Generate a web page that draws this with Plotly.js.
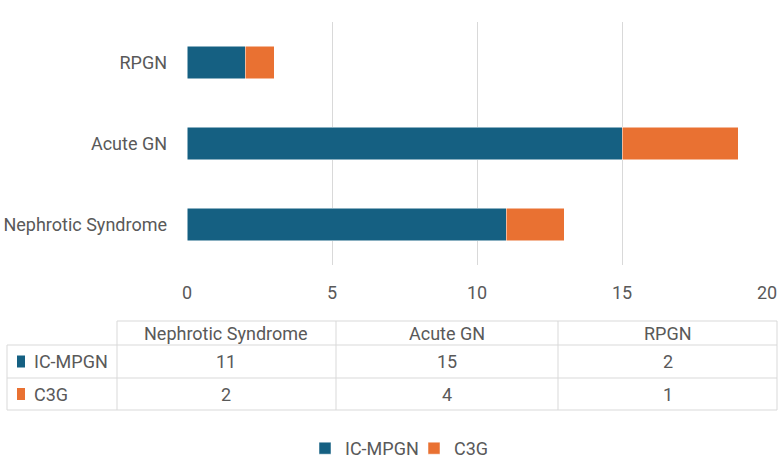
<!DOCTYPE html>
<html>
<head>
<meta charset="utf-8">
<script src="https://cdn.plot.ly/plotly-3.0.1.min.js"></script>
<style>html,body{margin:0;padding:0;background:#fff;}#chart{width:779px;height:460px;}</style>
</head>
<body>
<div id="chart"></div>
<script>
var categories = ["Nephrotic Syndrome", "Acute GN", "RPGN"];
var icMpgn = [11, 15, 2];
var c3g = [2, 4, 1];
var seriesNames = ["IC-MPGN", "C3G"];
var seriesValues = [icMpgn, c3g];
var seriesColors = ["#156082", "#E97132"];
var xTicks = [0, 5, 10, 15, 20];

var W = 779, H = 460;
var font = "Roboto, 'Liberation Sans', Arial, sans-serif";
var txt = "#595959";
var gridCol = "#d9d9d9";

function px(x) { return x / W; }
function py(y) { return 1 - y / H; }

var traces = seriesNames.map(function (n, i) {
  return {
    type: "bar", orientation: "h", name: n,
    y: categories, x: seriesValues[i],
    marker: {color: seriesColors[i], line: {color: "#ffffff", width: 0.5}},
    hoverinfo: "x+y"
  };
});

// ---- data table below the chart (shapes + annotations in paper coordinates) ----
var tblLeft = 7, labelColRight = 117, tblRight = 777;
var colEdges = [117, 336, 558, 777];
var rowEdges = [321, 345, 378, 410];

var shapes = [];
function hline(y, x0, x1) {
  shapes.push({type: "line", xref: "paper", yref: "paper", x0: px(x0), x1: px(x1), y0: py(y), y1: py(y),
    line: {color: gridCol, width: 1}});
}
function vline(x, y0, y1) {
  shapes.push({type: "line", xref: "paper", yref: "paper", x0: px(x), x1: px(x), y0: py(y0), y1: py(y1),
    line: {color: gridCol, width: 1}});
}
hline(rowEdges[0], labelColRight, tblRight);
for (var r = 1; r < rowEdges.length; r++) hline(rowEdges[r], tblLeft, tblRight);
vline(tblLeft, rowEdges[1], rowEdges[3]);
colEdges.forEach(function (x) { vline(x, rowEdges[0], rowEdges[3]); });

var annotations = [];
categories.forEach(function (c, j) {
  var xc = (colEdges[j] + colEdges[j + 1]) / 2;
  annotations.push({xref: "paper", yref: "paper", x: px(xc), y: py((rowEdges[0] + rowEdges[1]) / 2),
    xanchor: "center", yanchor: "middle", text: c, showarrow: false,
    font: {family: font, size: 18, color: txt}});
  seriesValues.forEach(function (vals, i) {
    annotations.push({xref: "paper", yref: "paper", x: px(xc), y: py((rowEdges[i + 1] + rowEdges[i + 2]) / 2),
      xanchor: "center", yanchor: "middle", text: String(vals[j]), showarrow: false,
      font: {family: font, size: 18, color: txt}});
  });
});
seriesNames.forEach(function (n, i) {
  var yc = (rowEdges[i + 1] + rowEdges[i + 2]) / 2;
  shapes.push({type: "rect", xref: "paper", yref: "paper",
    x0: px(tblLeft + 10), x1: px(tblLeft + 18), y0: py(yc - 6), y1: py(yc + 6),
    fillcolor: seriesColors[i], line: {width: 0}});
  annotations.push({xref: "paper", yref: "paper", x: px(tblLeft + 25), y: py(yc),
    xanchor: "left", yanchor: "middle", text: n,
    showarrow: false, font: {family: font, size: 18, color: txt}});
});

var layout = {
  width: W, height: H,
  margin: {l: 0, r: 0, t: 0, b: 0, autoexpand: false},
  paper_bgcolor: "#ffffff", plot_bgcolor: "#ffffff",
  barmode: "stack",
  bargap: 0.6,
  font: {family: font, size: 18, color: txt},
  xaxis: {
    domain: [px(187), px(767)],
    range: [0, 20],
    tickvals: xTicks,
    ticks: "",
    showgrid: true, gridcolor: gridCol, gridwidth: 1,
    zeroline: false, showline: false,
    ticklabelstandoff: 15,
    tickfont: {family: font, size: 18, color: txt},
    fixedrange: true
  },
  yaxis: {
    domain: [py(265), py(22)],
    type: "category",
    ticks: "",
    showgrid: false, zeroline: false, showline: false,
    ticklabelstandoff: 19,
    tickfont: {family: font, size: 18, color: txt},
    fixedrange: true
  },
  shapes: shapes,
  annotations: annotations,
  showlegend: true,
  legend: {
    orientation: "h",
    x: px(305), xanchor: "left",
    y: -7 / H, yanchor: "bottom",
    font: {family: font, size: 18, color: txt},
    entrywidth: 64, entrywidthmode: "pixels",
    traceorder: "normal"
  }
};

Plotly.newPlot("chart", traces, layout, {displayModeBar: false, staticPlot: true});
</script>
</body>
</html>
